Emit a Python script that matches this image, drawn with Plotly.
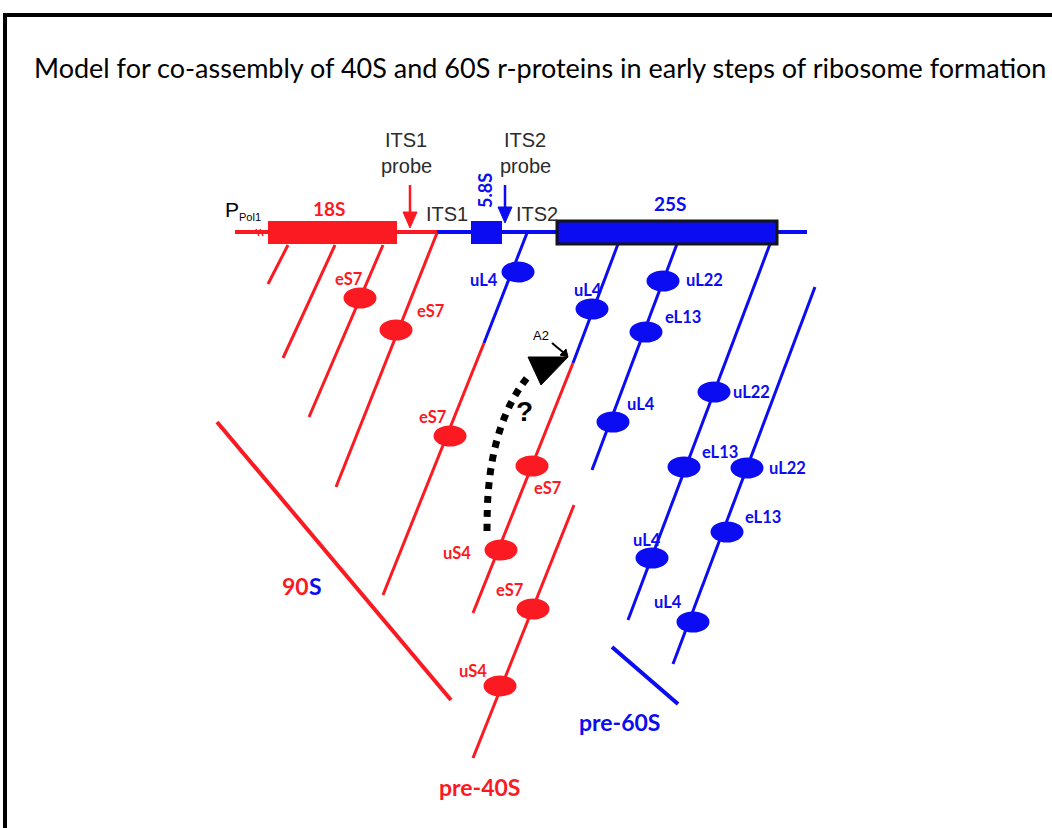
import plotly.graph_objects as go

RED = "#fb1a22"
BLUE = "#0c0cf2"
GREY = "#2b2b2b"

# ---------------- data (diagram coordinates, pixel-like units) ----------------
title_text = "Model for co-assembly of 40S and 60S r-proteins in early steps of ribosome formation"

# backbone (pre-rRNA gene)
backbone_red_x = [235, 437]
backbone_blue_x = [437, 807]
backbone_y = [232, 232]

# rRNA blocks
block_names = ["18S", "5.8S", "25S"]
block_x0 = [268, 471, 557]
block_x1 = [397, 502, 777]
block_y0 = [221, 221, 221]
block_y1 = [244, 244, 244]
block_col = ["red", "blue", "blue"]

# transcripts (branches)
red_branch_x0 = [288, 335, 383, 437, 484, 573, 574]
red_branch_y0 = [245, 245, 245, 233, 343, 363, 505]
red_branch_x1 = [268, 283, 309, 336, 383, 473, 473]
red_branch_y1 = [284, 358, 417, 487, 595, 613, 758]

blue_branch_x0 = [527, 618, 677, 770, 815]
blue_branch_y0 = [233, 244, 244, 244, 287]
blue_branch_x1 = [484, 573, 592, 628, 673]
blue_branch_y1 = [343, 363, 470, 620, 664]

# grouping brackets
bracket_90S_x = [217, 451]
bracket_90S_y = [422, 700]
bracket_60S_x = [612, 678]
bracket_60S_y = [647, 704]

# r-proteins
red_prot_x = [360, 396, 450, 532, 501, 533, 500]
red_prot_y = [298, 330, 436, 466, 550, 609, 686]
red_prot_lab = ["eS7", "eS7", "eS7", "eS7", "uS4", "eS7", "uS4"]
red_lab_x = [349, 431, 433, 548, 457, 510, 473]
red_lab_y = [279, 311, 417, 488, 553, 590, 671]

blue_prot_x = [518, 592, 663, 646, 613, 714, 684, 747, 727, 652, 693]
blue_prot_y = [272, 309, 281, 332, 422, 392, 467, 468, 532, 558, 622]
blue_prot_lab = ["uL4", "uL4", "uL22", "eL13", "uL4", "uL22", "eL13", "uL22", "eL13", "uL4", "uL4"]
blue_lab_x = [484, 588, 704, 683, 641, 751, 720, 787, 763, 647, 668]
blue_lab_y = [280, 290, 280, 317, 404, 392, 452, 468, 517, 540, 602]

# dotted transfer arrow
arc_x = [487, 488, 492, 499, 509, 521, 531]
arc_y = [531, 495, 462, 433, 407, 386, 373]
head_x = [528, 568, 541, 528]
head_y = [357, 357, 385, 357]

# probes
probe_x = [410, 505]
probe_top = [185, 185]
probe_tip = [228, 223]
probe_col = ["red", "blue"]

COL = {"red": RED, "blue": BLUE}

fig = go.Figure()

def seg(x, y, color, width):
    fig.add_trace(go.Scatter(x=x, y=y, mode="lines",
                             line=dict(color=color, width=width),
                             hoverinfo="skip", showlegend=False))

def tri(x, y, color):
    fig.add_trace(go.Scatter(x=x, y=y, mode="lines", fill="toself",
                             fillcolor=color, line=dict(color=color, width=1),
                             hoverinfo="skip", showlegend=False))

# backbone
seg(backbone_red_x, backbone_y, RED, 4)
seg(backbone_blue_x, backbone_y, BLUE, 4)
seg([256, 259], [229, 236], RED, 1.5)
seg([260, 263], [229, 236], RED, 1.5)

# branches
for x0, y0, x1, y1 in zip(red_branch_x0, red_branch_y0, red_branch_x1, red_branch_y1):
    seg([x0, x1], [y0, y1], RED, 3)
for x0, y0, x1, y1 in zip(blue_branch_x0, blue_branch_y0, blue_branch_x1, blue_branch_y1):
    seg([x0, x1], [y0, y1], BLUE, 3)

seg(bracket_90S_x, bracket_90S_y, RED, 4)
seg(bracket_60S_x, bracket_60S_y, BLUE, 4)

# dotted arc + head
fig.add_trace(go.Scatter(x=arc_x, y=arc_y, mode="lines",
                         line=dict(color="black", width=7, dash="7px,7px", shape="spline"),
                         hoverinfo="skip", showlegend=False))
tri(head_x, head_y, "black")
# A2 pointer
seg([552, 564], [343, 353], "black", 2)
tri([560, 568, 566, 560], [355, 357, 349, 355], "black")

# probe arrows
for x, t, tip, c in zip(probe_x, probe_top, probe_tip, probe_col):
    seg([x, x], [t, tip - 12], COL[c], 2.5)
    tri([x - 7, x + 7, x, x - 7], [tip - 16, tip - 16, tip, tip - 16], COL[c])

shapes = []
for n, x0, x1, y0, y1, c in zip(block_names, block_x0, block_x1, block_y0, block_y1, block_col):
    shapes.append(dict(type="rect", xref="x", yref="y", x0=x0, x1=x1, y0=y0, y1=y1,
                       fillcolor=COL[c],
                       line=dict(color="#151515" if n == "25S" else COL[c], width=3 if n == "25S" else 0)))

RX, RY = 16.5, 10.5
for x, y in zip(red_prot_x, red_prot_y):
    shapes.append(dict(type="circle", xref="x", yref="y", x0=x - RX, x1=x + RX,
                       y0=y - RY, y1=y + RY, fillcolor=RED, line=dict(width=0)))
for x, y in zip(blue_prot_x, blue_prot_y):
    shapes.append(dict(type="circle", xref="x", yref="y", x0=x - RX, x1=x + RX,
                       y0=y - RY, y1=y + RY, fillcolor=BLUE, line=dict(width=0)))

shapes.append(dict(type="rect", xref="x", yref="y", x0=5, x1=1070, y0=15, y1=850,
                   line=dict(color="black", width=4), fillcolor="rgba(0,0,0,0)", layer="below"))

ann = []
def txt(x, y, s, size, color, family="Lato", bold=False, **kw):
    ann.append(dict(x=x, y=y, xref="x", yref="y", text=("<b>%s</b>" % s) if bold else s,
                    showarrow=False, font=dict(size=size, color=color, family=family),
                    borderpad=0, borderwidth=0,
                    xanchor=kw.pop("xanchor", "center"), yanchor=kw.pop("yanchor", "middle"), **kw))

txt(540, 67, title_text, 27, "black", family="Lato")

for s, x, y in zip(red_prot_lab, red_lab_x, red_lab_y):
    txt(x, y, s, 16.5, RED, bold=True)
for s, x, y in zip(blue_prot_lab, blue_lab_x, blue_lab_y):
    txt(x, y, s, 16.5, BLUE, bold=True)

txt(329, 208, "18S", 19, RED, bold=True)
txt(670, 203, "25S", 19, BLUE, bold=True)
txt(485, 191, "5.8S", 18, BLUE, bold=True, textangle=-90)
txt(447, 214, "ITS1", 20, GREY, family="Liberation Sans")
txt(537, 214, "ITS2", 20, GREY, family="Liberation Sans")
txt(406, 140, "ITS1", 20, GREY, family="Liberation Sans")
txt(406, 166, "probe", 20, GREY, family="Liberation Sans")
txt(525, 140, "ITS2", 20, GREY, family="Liberation Sans")
txt(525, 166, "probe", 20, GREY, family="Liberation Sans")
txt(225, 209, "P", 21, "black", family="Liberation Sans", xanchor="left")
txt(239, 217, "Pol1", 11, "black", family="Liberation Sans", xanchor="left")
txt(524, 411, "?", 28, "black", family="Liberation Sans", bold=True)
txt(541, 335, "A2", 13, "black", family="Liberation Sans")
txt(309, 586, "90", 23, RED, bold=True, xanchor="right")
txt(309, 586, "S", 23, BLUE, bold=True, xanchor="left")
txt(479, 787, "pre-40S", 23, RED, bold=True)
txt(619, 722, "pre-60S", 23, BLUE, bold=True)

fig.update_layout(
    width=1052, height=828,
    margin=dict(l=0, r=0, t=0, b=0),
    paper_bgcolor="white", plot_bgcolor="white",
    xaxis=dict(range=[0, 1052], visible=False, fixedrange=True),
    yaxis=dict(range=[828, 0], visible=False, fixedrange=True),
    shapes=shapes, annotations=ann, showlegend=False,
)

fig.write_html("out.html", config={"displayModeBar": False},
               post_script="document.body.style.margin='0';document.body.style.overflow='hidden';")
